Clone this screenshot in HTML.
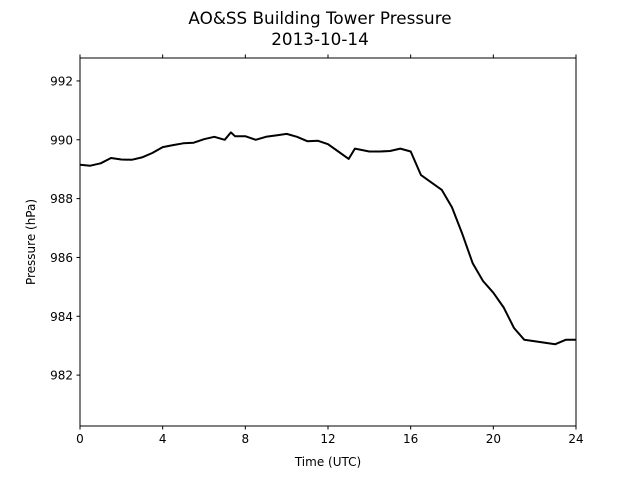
<!DOCTYPE html>
<html><head><meta charset="utf-8"><style>body{margin:0;background:#fff}svg{display:block}text{font-family:"DejaVu Sans","Liberation Sans",sans-serif}</style></head>
<body>
<svg id="c" width="640" height="480" xmlns="http://www.w3.org/2000/svg">
<text x="320" y="24" font-size="16.8" text-anchor="middle">AO&amp;SS Building Tower Pressure</text>
<text x="320" y="45" font-size="16.8" text-anchor="middle">2013-10-14</text>
<text x="328" y="466" font-size="12" text-anchor="middle">Time (UTC)</text>
<text transform="translate(35,242) rotate(-90)" font-size="12" text-anchor="middle">Pressure (hPa)</text>
<g id="ax"></g>
</svg>
<script>
const hours=[0,0.5,1,1.5,2,2.5,3,3.5,4,4.5,5,5.5,6,6.5,7,7.3,7.5,8,8.5,9,9.5,10,10.5,11,11.5,12,12.5,13,13.3,14,14.5,15,15.5,16,16.5,17,17.5,18,18.5,19,19.5,20,20.5,21,21.5,22,22.5,23,23.5,24];
const pressure=[989.15,989.12,989.2,989.38,989.33,989.32,989.4,989.55,989.75,989.82,989.88,989.9,990.02,990.1,990.0,990.25,990.12,990.12,990.0,990.1,990.15,990.2,990.1,989.95,989.97,989.85,989.6,989.35,989.7,989.6,989.6,989.62,989.7,989.6,988.8,988.55,988.3,987.7,986.8,985.8,985.2,984.8,984.3,983.6,983.2,983.15,983.1,983.05,983.2,983.2];
const xTicks=[0,4,8,12,16,20,24];
const yTicks=[982,984,986,988,990,992];
const L=80,R=576,T=58,B=426,ymin=980.27,ymax=992.78;
const X=v=>L+(v/24)*(R-L), Y=v=>B-(v-ymin)/(ymax-ymin)*(B-T);
const ns="http://www.w3.org/2000/svg", g=document.getElementById('ax');
function mk(t,a){const e=document.createElementNS(ns,t);for(const k in a)e.setAttribute(k,a[k]);g.appendChild(e);return e;}
let d=hours.map((h,i)=>(i?'L':'M')+X(h).toFixed(1)+','+Y(pressure[i]).toFixed(1)).join('');
const line=mk('path',{d:d,fill:'none',stroke:'#000','stroke-width':2,'stroke-linejoin':'round'});


const fr=mk('rect',{x:L,y:T,width:R-L,height:B-T,fill:'none',stroke:'#000','stroke-width':1});


xTicks.forEach(v=>{const x=X(v);
 mk('line',{x1:x,x2:x,y1:B,y2:B+3.5,stroke:'#000'});
 mk('line',{x1:x,x2:x,y1:T,y2:T-3.5,stroke:'#000'});
 const t=mk('text',{x:x,y:B+17,'font-size':12,'text-anchor':'middle'});t.textContent=v;
 
 });
yTicks.forEach(v=>{const y=Y(v);
 mk('line',{x1:L,x2:L-3.5,y1:y,y2:y,stroke:'#000'});
 const t=mk('text',{x:L-7,y:y+4.5,'font-size':12,'text-anchor':'end'});t.textContent=v;
 
 });
</script>
</body></html>
